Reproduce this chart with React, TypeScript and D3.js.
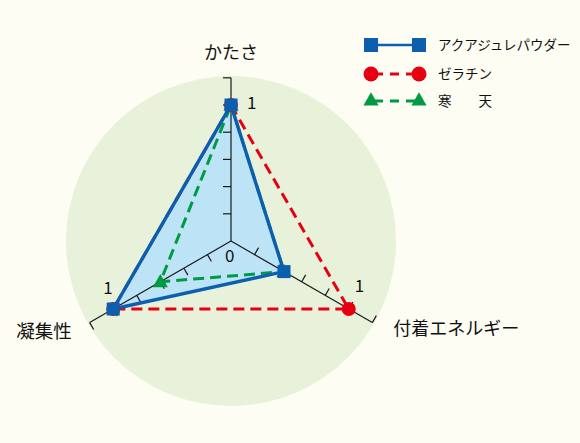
import * as d3 from "d3";
import { useEffect, useRef } from "react";

const axes = ["かたさ", "付着エネルギー", "凝集性"];
const seriesNames = ["アクアジュレパウダー", "ゼラチン", "寒　　天"];
const aquaValues = [1.0, 0.45, 1.0];
const gelatinValues = [1.0, 1.0, 1.0];
const kantenValues = [1.0, 0.45, 0.6];
const tickValues = [0.2, 0.4, 0.6, 0.8, 1.0, 1.2];

const W = 580;
const H = 443;
const FONT = "'Noto Sans CJK JP', 'Noto Sans', sans-serif";
const BLUE = "#0b5fae";
const RED = "#e60012";
const GREEN = "#009a44";

export default function App() {
  const ref = useRef<SVGSVGElement>(null);

  useEffect(() => {
    if (!ref.current) return;
    const svg = d3.select(ref.current);
    svg.selectAll("*").remove();

    const cx = 231;
    const cy = 241;
    const r = d3.scaleLinear().domain([0, 1]).range([0, 136]);
    const angle = d3
      .scaleOrdinal<string, number>()
      .domain(axes)
      .range([-90, 30, 150].map((a) => (a * Math.PI) / 180));

    const pt = (axis: string, v: number): [number, number] => {
      const a = angle(axis);
      return [cx + Math.cos(a) * r(v), cy + Math.sin(a) * r(v)];
    };

    svg.append("rect").attr("width", W).attr("height", H).attr("fill", "#fdfdf4");
    svg.append("circle").attr("cx", cx).attr("cy", cy).attr("r", 165).attr("fill", "#e8f1d9");

    // blue area
    const closed = d3.line().curve(d3.curveLinearClosed);
    svg
      .append("path")
      .attr("d", closed(axes.map((a, i) => pt(a, aquaValues[i]))))
      .attr("fill", "#bde3f6");

    // axes + ticks
    const g = svg.append("g").attr("stroke", "#1a1a1a").attr("stroke-width", 1.2);
    axes.forEach((axis) => {
      const a = angle(axis);
      const end = pt(axis, 1.2);
      g.append("line").attr("x1", cx).attr("y1", cy).attr("x2", end[0]).attr("y2", end[1]);
      // perpendicular (counterclockwise on screen)
      const px = Math.sin(a);
      const py = -Math.cos(a);
      tickValues.forEach((t) => {
        const [x, y] = pt(axis, t);
        g.append("line")
          .attr("x1", x)
          .attr("y1", y)
          .attr("x2", x + px * 8)
          .attr("y2", y + py * 8);
      });
    });

    const line = d3.line().curve(d3.curveLinearClosed);

    // gelatin
    svg
      .append("path")
      .attr("d", line(axes.map((a, i) => pt(a, gelatinValues[i]))))
      .attr("fill", "none")
      .attr("stroke", RED)
      .attr("stroke-width", 3)
      .attr("stroke-dasharray", "11,6");

    // kanten
    svg
      .append("path")
      .attr("d", line(axes.map((a, i) => pt(a, kantenValues[i]))))
      .attr("fill", "none")
      .attr("stroke", GREEN)
      .attr("stroke-width", 3)
      .attr("stroke-dasharray", "11,6");

    // aqua line
    svg
      .append("path")
      .attr("d", line(axes.map((a, i) => pt(a, aquaValues[i]))))
      .attr("fill", "none")
      .attr("stroke", BLUE)
      .attr("stroke-width", 3.4);

    const tri = d3.symbol().type(d3.symbolTriangle).size(100);
    const drawTri = (sel: any, x: number, y: number) =>
      sel.append("path").attr("d", tri()).attr("transform", `translate(${x},${y + 1})`).attr("fill", GREEN);
    const drawCircle = (sel: any, x: number, y: number, rr = 7) =>
      sel.append("circle").attr("cx", x).attr("cy", y).attr("r", rr).attr("fill", RED);
    const drawSquare = (sel: any, x: number, y: number, s = 13) =>
      sel.append("rect").attr("x", x - s / 2).attr("y", y - s / 2).attr("width", s).attr("height", s).attr("fill", BLUE);

    const marks = svg.append("g");
    axes.forEach((a, i) => {
      const [x, y] = pt(a, kantenValues[i]);
      drawTri(marks, x, y);
    });
    axes.forEach((a, i) => {
      const [x, y] = pt(a, gelatinValues[i]);
      drawCircle(marks, x, y);
    });
    axes.forEach((a, i) => {
      const [x, y] = pt(a, aquaValues[i]);
      drawSquare(marks, x, y);
    });

    // labels
    const txt = svg.append("g").attr("font-family", FONT).attr("fill", "#111");
    const [tx, ty] = pt(axes[0], 1.2);
    txt.append("text").attr("x", tx).attr("y", ty - 19).attr("text-anchor", "middle").attr("font-size", 18).text(axes[0]);
    const [rx, ry] = pt(axes[1], 1.2);
    txt.append("text").attr("x", rx + 21).attr("y", ry + 12).attr("font-size", 18).text(axes[1]);
    const [lx, ly] = pt(axes[2], 1.2);
    txt.append("text").attr("x", lx - 18).attr("y", ly + 15).attr("text-anchor", "end").attr("font-size", 18.5).text(axes[2]);

    // scale labels
    const [a1x, a1y] = pt(axes[0], 1);
    txt.append("text").attr("x", a1x + 16).attr("y", a1y + 4).attr("font-size", 17).text("1");
    const [b1x, b1y] = pt(axes[1], 1);
    txt.append("text").attr("x", b1x + 6).attr("y", b1y - 17).attr("font-size", 17).text("1");
    const [c1x, c1y] = pt(axes[2], 1);
    txt.append("text").attr("x", c1x - 10).attr("y", c1y - 15).attr("font-size", 17).text("1");
    txt.append("text").attr("x", cx - 6).attr("y", cy + 21).attr("font-size", 17).text("0");

    // legend
    const leg = svg.append("g");
    const legY = [45, 74, 101];
    const x0 = 371;
    const x1 = 419;
    leg.append("line").attr("x1", x0).attr("x2", x1).attr("y1", legY[0]).attr("y2", legY[0]).attr("stroke", BLUE).attr("stroke-width", 2.6);
    drawSquare(leg, x0, legY[0], 14);
    drawSquare(leg, x1, legY[0], 14);
    leg.append("line").attr("x1", x0).attr("x2", x1).attr("y1", legY[1]).attr("y2", legY[1]).attr("stroke", RED).attr("stroke-width", 3).attr("stroke-dasharray", "9,7").attr("stroke-dashoffset", -3);
    drawCircle(leg, x0, legY[1], 7.5);
    drawCircle(leg, x1, legY[1], 7.5);
    leg.append("line").attr("x1", x0).attr("x2", x1).attr("y1", legY[2]).attr("y2", legY[2]).attr("stroke", GREEN).attr("stroke-width", 3).attr("stroke-dasharray", "9,7").attr("stroke-dashoffset", -3);
    drawTri(leg, x0, legY[2] - 1);
    drawTri(leg, x1, legY[2] - 1);
    seriesNames.forEach((n, i) => {
      leg.append("text")
        .attr("x", 438)
        .attr("y", legY[i] + 5)
        .attr("font-family", FONT)
        .attr("font-size", 13.5)
        .attr("fill", "#111")
        .text(n);
    });
  }, []);

  return (
    <svg
      ref={ref}
      width={W}
      height={H}
      style={{ position: "absolute", left: 0, top: 0, display: "block" }}
    />
  );
}
